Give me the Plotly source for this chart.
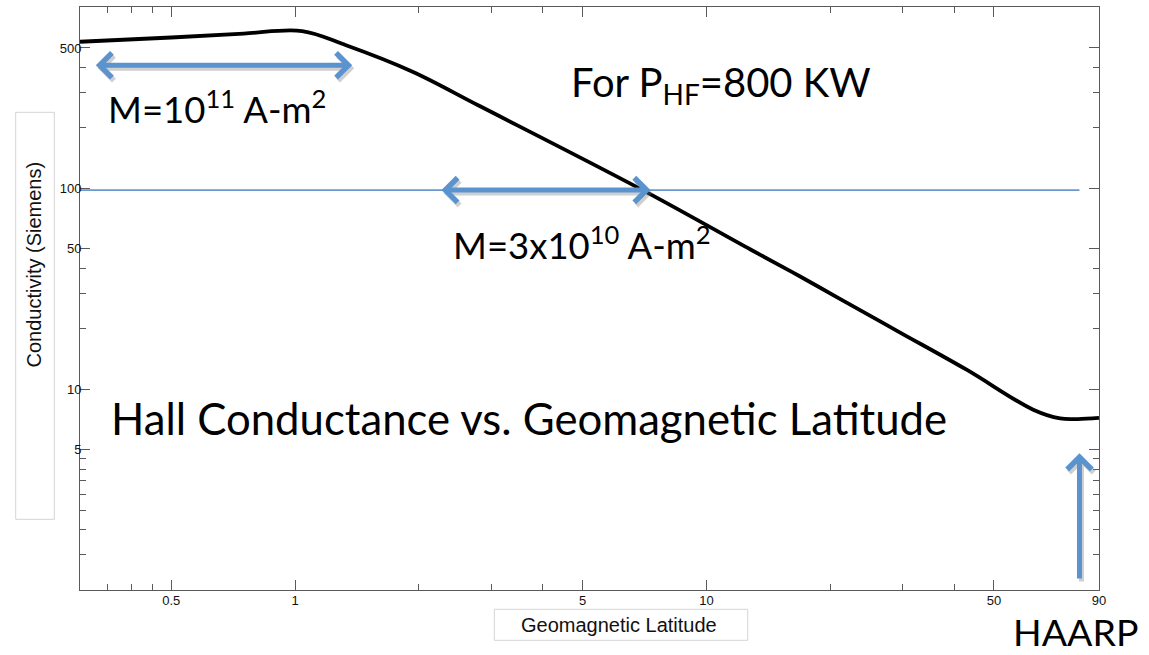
import numpy as np
import plotly.graph_objects as go

# Hall conductance vs. geomagnetic latitude (log-log)
latitude_deg = [0.3, 0.5, 0.75, 1.04, 1.33, 1.93, 2.81, 7.0, 12.8, 16.9, 20.9,
                29.5, 42.9, 62.3, 72.4, 80.0, 90.0]
hall_siemens = [537, 564, 590, 607, 516, 381, 257, 98, 49.6, 36.4, 28.5,
                19.2, 12.5, 7.9, 7.15, 7.1, 7.2]

# threshold conductance line (M = 3x10^10 A-m^2)
threshold_lat = [0.3, 80.7]
threshold_sigma = [98, 98]

# double arrows: (lat_start, lat_end, sigma)
arrow_m11 = (0.325, 1.377, 410)
arrow_m10 = (2.25, 7.31, 98)
# HAARP marker arrow: (lat, sigma_tail, sigma_head)
arrow_haarp = (80.7, 1.12, 4.79)

x_major = [0.5, 1, 5, 10, 50, 90]
x_minor = [0.35, 0.4, 0.45, 2, 3, 4, 20, 30, 40]
y_major = [5, 10, 50, 100, 500]
y_minor = [1.5, 2, 2.5, 3, 3.5, 4, 4.5, 20, 30, 40, 200, 300, 400]

W, H = 1149, 655
ML, MR, MT, MB = 80, 50, 7, 65
PW, PH = W - ML - MR, H - MT - MB


def px(xp):
    return (xp - ML) / PW


def py(yp):
    return (H - MB - yp) / PH


L10 = np.log10
AXIS_GREY = "#5a5a5a"
BLUE = "#5b93cf"
SHADOW = "rgba(120,120,120,0.35)"
BIG_FONT = "Lato"
SMALL_FONT = "Liberation Sans, Arial"

fig = go.Figure()

fig.add_trace(go.Scatter(
    x=threshold_lat, y=threshold_sigma, mode="lines",
    line=dict(color="#6a98cc", width=1.6), hoverinfo="skip"))

fig.add_trace(go.Scatter(
    x=latitude_deg, y=hall_siemens, mode="lines",
    line=dict(color="black", width=3.8, shape="spline", smoothing=1.0),
    hoverinfo="skip"))

axis_common = dict(
    type="log", showgrid=False, zeroline=False, showline=True,
    linecolor=AXIS_GREY, linewidth=1, mirror="allticks",
    ticks="inside", ticklen=10, tickwidth=1, tickcolor=AXIS_GREY,
    tickfont=dict(family=SMALL_FONT, size=13, color="#111"),
)

fig.update_layout(
    width=W, height=H,
    margin=dict(l=ML, r=MR, t=MT, b=MB),
    paper_bgcolor="white", plot_bgcolor="white",
    showlegend=False,
    xaxis=dict(axis_common, range=[L10(0.3), L10(90) + 1e-4],
               tickmode="array", tickvals=x_major,
               ticktext=[str(v) for v in x_major], ticklabelstandoff=-2,
               minor=dict(tickmode="array", tickvals=x_minor, ticks="inside",
                          ticklen=6, tickcolor=AXIS_GREY, tickwidth=1)),
    yaxis=dict(axis_common, range=[0, L10(800)],
               tickmode="array", tickvals=y_major,
               ticktext=[str(v) for v in y_major], ticklabelstandoff=-5,
               minor=dict(tickmode="array", tickvals=y_minor, ticks="inside",
                          ticklen=6, tickcolor=AXIS_GREY, tickwidth=1)),
)

# boxed axis titles
fig.add_shape(type="rect", xref="paper", yref="paper",
              x0=px(15.7), x1=px(54.3), y0=py(519.3), y1=py(112.3),
              line=dict(color="#d4d4d4", width=1))
fig.add_shape(type="rect", xref="paper", yref="paper",
              x0=px(494.3), x1=px(747.7), y0=py(640.3), y1=py(609.3),
              line=dict(color="#d4d4d4", width=1))
fig.add_annotation(text="Conductivity (Siemens)", xref="paper", yref="paper",
                   x=px(33), y=py(264.5), xanchor="center", yanchor="middle",
                   showarrow=False, textangle=-90,
                   font=dict(family=SMALL_FONT, size=20, color="#111"))
fig.add_annotation(text="Geomagnetic Latitude", xref="paper", yref="paper",
                   x=px(619), y=py(625), xanchor="center", yanchor="middle",
                   showarrow=False,
                   font=dict(family=SMALL_FONT, size=20, color="#111"))


def double_arrow(x0, x1, yv):
    for color, dx, dy in ((SHADOW, 2, -3), (BLUE, 0, 0)):
        fig.add_annotation(x=L10(x1), y=L10(yv), ax=L10(x0), ay=L10(yv),
                           xref="x", yref="y", axref="x", ayref="y",
                           text="", showarrow=True, arrowside="end+start",
                           arrowhead=4, startarrowhead=4, arrowsize=0.95,
                           startarrowsize=0.95, arrowwidth=5,
                           arrowcolor=color, xshift=dx, yshift=dy, standoff=0,
                           startstandoff=0)


double_arrow(*arrow_m11)
double_arrow(*arrow_m10)

hx, hy0, hy1 = arrow_haarp
for color, dx, dy in ((SHADOW, 2, -3), (BLUE, 0, 0)):
    fig.add_annotation(x=L10(hx), y=L10(hy1), ax=L10(hx), ay=L10(hy0),
                       xref="x", yref="y", axref="x", ayref="y",
                       text="", showarrow=True, arrowhead=4, arrowsize=0.95,
                       arrowwidth=5, arrowcolor=color, xshift=dx, yshift=dy,
                       standoff=0)


# slide text
def label(text, x, y, size, yanchor="middle"):
    fig.add_annotation(text=text, xref="paper", yref="paper", x=px(x), y=py(y),
                       xanchor="left", yanchor=yanchor, showarrow=False,
                       borderpad=0,
                       font=dict(family=BIG_FONT, size=size, color="black"))


label("Hall Conductance vs. Geomagnetic Latitude", 110, 417.5, 43.7)
label("For P<sub>HF</sub>=800 KW", 570, 84.5, 40)
label("M=10<sup>11</sup> A-m<sup>2</sup>", 107, 106.7, 36.5)
label("M=3x10<sup>10</sup> A-m<sup>2</sup>", 452, 242.5, 36.5)
label("HAARP", 1012, 654.5, 37.5, yanchor="bottom")

fig.write_html("out.html")
